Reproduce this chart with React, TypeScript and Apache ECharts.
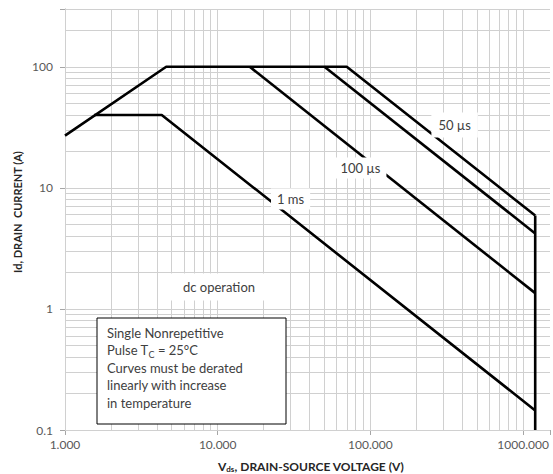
import { useEffect, useRef } from "react";
import * as echarts from "echarts";

// Axis ranges and tick decades
const xRange = [1, 1500];
const yRange = [0.1, 300];
const xDecades = [1, 10, 100, 1000];
const yDecades = [0.1, 1, 10, 100];

// Safe operating area curves [Vds (V), Id (A)]
const envelopeCurve = [
  [1, 27],
  [4.6, 100],
  [70, 100],
  [1200, 5.9],
];
const curve1ms = [
  [1.55, 40],
  [4.3, 40],
  [1200, 0.145],
];
const curve100us = [
  [16.2, 100],
  [1200, 1.35],
];
const curve10us = [
  [50, 100],
  [1200, 4.2],
];
const voltageLimit = [
  [1200, 5.9],
  [1200, 0.1],
];

// Curve labels placed at data coordinates
const curveLabelTexts = ["50 µs", "100 µs", "1 ms", "dc operation"];
const curveLabelX = [356, 86, 30, 10.2];
const curveLabelY = [33, 14.6, 8.1, 1.52];

const noteLines = [
  "Single Nonrepetitive",
  "Pulse T{sub|C} = 25°C",
  "Curves must be derated",
  "linearly with increase",
  "in temperature",
];

const FONT = "Lato";

function gridValues(decades: number[], max: number): number[] {
  const out: number[] = [];
  decades.forEach((d) => {
    for (let m = 1; m <= 9; m++) {
      const v = parseFloat((m * d).toPrecision(6));
      if (v <= max + 1e-9) out.push(v);
    }
  });
  return out;
}

function isDecade(v: number): boolean {
  const l = Math.log10(v);
  return Math.abs(l - Math.round(l)) < 1e-6;
}

export default function App() {
  const ref = useRef<HTMLDivElement>(null);

  useEffect(() => {
    if (!ref.current) return;
    const chart = echarts.init(ref.current, undefined, { renderer: "svg" });

    const xGrid = gridValues(xDecades, xRange[1]);
    const yGrid = gridValues(yDecades, yRange[1]);

    const curveLine = { color: "#000000", width: 2.6 };
    const mkCurve = (name: string, data: number[][]) => ({
      type: "line",
      name,
      data,
      symbol: "none",
      showSymbol: false,
      silent: true,
      lineStyle: curveLine,
      z: 3,
    });

    const staticGraphics: any[] = [
      {
        type: "rect",
        shape: { x: 97, y: 318, width: 189, height: 106 },
        style: { fill: "#ffffff", stroke: "#000000", lineWidth: 1 },
        z: 20,
      },
      {
        type: "text",
        x: 107,
        y: 324,
        z: 21,
        style: {
          text: noteLines.join("\n"),
          fill: "#404040",
          fontSize: 13,
          fontFamily: FONT,
          lineHeight: 17.5,
          align: "left",
          verticalAlign: "top",
          rich: {
            sub: {
              fontSize: 9,
              fontFamily: FONT,
              fill: "#404040",
              verticalAlign: "bottom",
              lineHeight: 12,
            },
          },
        },
      },
      {
        type: "text",
        x: 311,
        y: 466,
        z: 21,
        style: {
          text: "{b|V}{s|ds}{b|, DRAIN-SOURCE VOLTAGE (V)}",
          align: "center",
          verticalAlign: "middle",
          rich: {
            b: {
              fontSize: 12,
              fontWeight: "bold",
              fontFamily: FONT,
              fill: "#262626",
              lineHeight: 14,
            },
            s: {
              fontSize: 8,
              fontWeight: "bold",
              fontFamily: FONT,
              fill: "#262626",
              verticalAlign: "bottom",
              lineHeight: 8,
            },
          },
        },
      },
      {
        type: "text",
        x: 17,
        y: 212,
        rotation: Math.PI / 2,
        z: 21,
        style: {
          text: "Id, DRAIN  CURRENT (A)",
          fontSize: 11,
          fontWeight: "bold",
          fontFamily: FONT,
          fill: "#262626",
          align: "center",
          verticalAlign: "middle",
        },
      },
    ];

    const option: any = {
      animation: false,
      backgroundColor: "#ffffff",
      grid: { left: 65, right: 0, top: 9, bottom: 44, containLabel: false },
      xAxis: {
        type: "log",
        logBase: 10,
        min: xRange[0],
        max: xRange[1],
        axisLine: { show: true, lineStyle: { color: "#a6a6a6", width: 1 } },
        axisTick: { show: true, length: 5, lineStyle: { color: "#a6a6a6" } },
        splitLine: { show: false },
        axisLabel: {
          color: "#595959",
          fontSize: 12,
          fontFamily: FONT,
          margin: 8,
          formatter: (v: number) => (isDecade(v) ? v.toFixed(3) : ""),
        },
      },
      yAxis: {
        type: "log",
        logBase: 10,
        min: yRange[0],
        max: yRange[1],
        axisLine: { show: true, lineStyle: { color: "#a6a6a6", width: 1 } },
        axisTick: { show: true, length: 5, lineStyle: { color: "#a6a6a6" } },
        splitLine: { show: false },
        axisLabel: {
          color: "#595959",
          fontSize: 12,
          fontFamily: FONT,
          margin: 12,
          formatter: (v: number) =>
            isDecade(v) ? (v < 1 ? v.toFixed(1) : String(Math.round(v))) : "",
        },
      },
      series: [
        {
          type: "line",
          name: "grid",
          data: [],
          silent: true,
          z: 1,
          markLine: {
            silent: true,
            animation: false,
            z: 1,
            symbol: ["none", "none"],
            label: { show: false },
            lineStyle: { color: "#d0d0d0", width: 1, type: "solid" },
            emphasis: { disabled: true },
            data: [
              ...xGrid.map((v) => ({ xAxis: v })),
              ...yGrid.map((v) => ({ yAxis: v })),
            ],
          },
        },
        mkCurve("Envelope", envelopeCurve),
        mkCurve("1 ms", curve1ms),
        mkCurve("100 µs", curve100us),
        mkCurve("10 µs", curve10us),
        mkCurve("Vdss limit", voltageLimit),
      ],
      graphic: staticGraphics,
    };

    chart.setOption(option);

    // Curve labels: positioned through the chart's own scales
    const paddings = [
      [6, 7],
      [4, 6],
      [4, 6],
      [7, 14],
    ];
    const labelGraphics = curveLabelTexts.map((t, i) => {
      const p = chart.convertToPixel({ gridIndex: 0 }, [
        curveLabelX[i],
        curveLabelY[i],
      ]) as number[];
      return {
        type: "text",
        x: p[0],
        y: p[1],
        z: 30,
        style: {
          text: t,
          fill: "#404040",
          fontSize: 13,
          fontFamily: FONT,
          align: "center",
          verticalAlign: "middle",
          backgroundColor: "#ffffff",
          padding: paddings[i],
        },
      };
    });
    chart.setOption({ graphic: [...staticGraphics, ...labelGraphics] });

    return () => chart.dispose();
  }, []);

  return (
    <div
      ref={ref}
      style={{ position: "absolute", left: 0, top: 0, width: 553, height: 474 }}
    />
  );
}
